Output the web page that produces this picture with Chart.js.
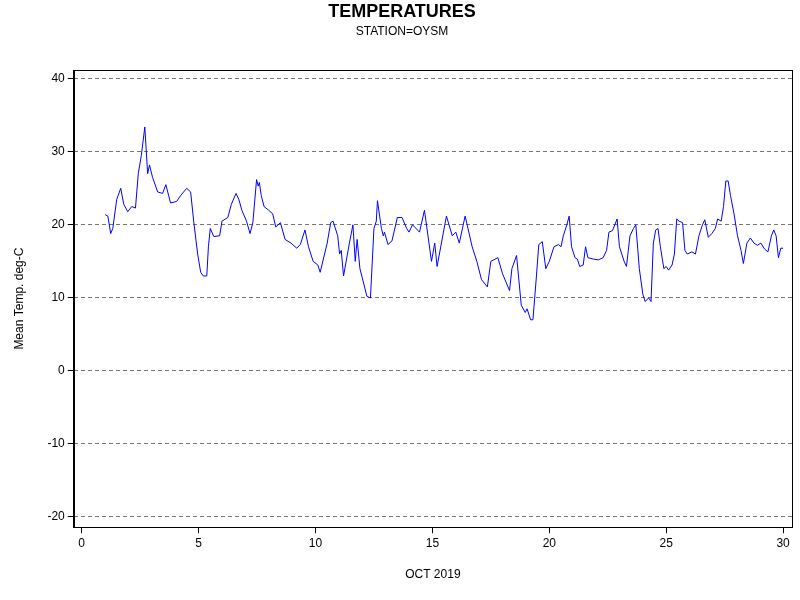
<!DOCTYPE html>
<html><head><meta charset="utf-8">
<script src="https://cdn.jsdelivr.net/npm/chart.js@4"></script>
<style>body{margin:0;background:#fff}#w{width:800px;height:600px}</style>
</head><body><div id="w"><canvas id="c"></canvas></div>
<script>
const days = [1.0,1.12,1.24,1.33,1.5,1.67,1.8,1.97,2.14,2.3,2.42,2.55,2.7,2.82,2.9,3.03,3.25,3.46,3.6,3.8,4.06,4.23,4.36,4.49,4.66,4.79,4.96,5.09,5.2,5.35,5.42,5.5,5.65,5.9,6.0,6.25,6.4,6.6,6.72,6.85,7.05,7.2,7.32,7.48,7.55,7.6,7.68,7.8,8.0,8.17,8.3,8.5,8.7,8.95,9.2,9.35,9.55,9.7,9.9,10.1,10.2,10.5,10.65,10.75,10.95,11.03,11.1,11.2,11.45,11.6,11.7,11.78,11.9,12.2,12.35,12.5,12.6,12.65,12.82,12.9,12.95,13.1,13.27,13.5,13.7,13.9,14.0,14.15,14.45,14.66,14.96,15.1,15.2,15.6,15.85,16.0,16.15,16.4,16.7,16.9,17.1,17.35,17.5,17.8,18.0,18.3,18.4,18.6,18.8,18.97,19.05,19.2,19.3,19.45,19.55,19.7,19.85,20.0,20.2,20.4,20.5,20.6,20.75,20.85,20.95,21.1,21.2,21.3,21.45,21.55,21.65,21.9,22.1,22.3,22.45,22.55,22.7,22.9,23.0,23.2,23.3,23.45,23.6,23.7,23.85,24.0,24.1,24.25,24.35,24.45,24.55,24.65,24.75,24.9,25.0,25.1,25.25,25.35,25.45,25.55,25.7,25.8,25.9,26.1,26.25,26.4,26.55,26.65,26.8,26.95,27.1,27.2,27.35,27.45,27.55,27.65,27.75,27.9,28.05,28.2,28.3,28.45,28.6,28.75,28.9,29.05,29.2,29.35,29.5,29.6,29.7,29.8,29.9,30.0];
const temps = [21.4,21.2,18.8,19.5,23.5,25,22.8,21.8,22.5,22.3,27,29.5,33.4,27,28.2,26.5,24.5,24.3,25.5,23,23.2,24,24.5,25,24.5,20.5,16,13.5,13,13,17,19.5,18.4,18.5,20.5,21,22.8,24.3,23.5,22,20.5,18.8,20.3,26.2,25.3,25.8,24,22.5,22,21.5,19.7,20.3,18,17.5,16.8,17.3,19.3,17,15,14.5,13.5,17.5,20.3,20.5,18.5,16,16.5,13,17.5,20,15,18,14,10.2,10,19.5,20.5,23.3,19.5,18.5,19,17.3,17.8,21,21,19.5,19,20,19,22,15,17.5,14.3,21.2,18.5,19,17.5,21.2,17,15,12.5,11.5,15,15.5,13.3,11,14,15.8,9,8,8.5,7,7,13,17.3,17.7,14,15,17,17.3,17,18.5,20,21.2,17,15.5,15.3,14.3,14.5,17,15.5,15.3,15.2,15.5,16.5,19,19.2,20.8,17,15,14.3,18.5,19.5,20,14,10.5,9.5,10,9.5,17.5,19.3,19.5,17,14,14.3,13.8,14.5,16,20.8,20.5,20.3,16.5,16,16.3,16,18.5,20,20.7,18.3,18.8,19.5,20.8,20.5,22.5,26,26,24,21.5,18.5,16.5,14.7,17.5,18.2,17.5,17.2,17.5,16.7,16.3,18.5,19.3,18.5,15.5,16.8,16.8];
const points = days.map((d,i)=>({x:d,y:temps[i]}));
const frame={id:'frame',afterDraw(c){const a=c.chartArea,x=c.ctx;x.save();x.strokeStyle='#000';x.lineWidth=1;x.strokeRect(Math.round(a.left)+0.5,Math.round(a.top)+0.5,Math.round(a.right-a.left),Math.round(a.bottom-a.top));x.restore();}};
new Chart(document.getElementById('c'),{
type:'line',
data:{datasets:[{data:points,borderColor:'#0000ff',borderWidth:1,pointRadius:0,tension:0}]},
options:{responsive:true,maintainAspectRatio:false,animation:false,
layout:{padding:{left:12,right:8,top:0,bottom:14}},
plugins:{legend:{display:false},
title:{display:true,text:'TEMPERATURES',font:{family:'Liberation Sans',size:18,weight:'bold'},color:'#000',padding:{top:1,bottom:2}},
subtitle:{display:true,text:'STATION=OYSM',font:{family:'Liberation Sans',size:12},color:'#000',padding:{bottom:31}}},
scales:{
x:{type:'linear',min:-0.34,max:30.38,afterBuildTicks:s=>{s.ticks=[0,5,10,15,20,25,30].map(v=>({value:v}));},
grid:{drawOnChartArea:false,color:'#000',tickLength:6},border:{color:'#000'},
ticks:{color:'#000',font:{family:'Liberation Sans',size:12}},
title:{display:true,text:'OCT 2019',color:'#000',font:{family:'Liberation Sans',size:12},padding:{top:14}}},
y:{min:-21.4,max:41.2,afterBuildTicks:s=>{s.ticks=[-20,-10,0,10,20,30,40].map(v=>({value:v}));},
grid:{color:'#777',tickLength:6,tickColor:'#000'},border:{color:'#000',dash:[4,3]},
ticks:{color:'#000',font:{family:'Liberation Sans',size:12}},
title:{display:true,text:'Mean Temp. deg-C',color:'#000',font:{family:'Liberation Sans',size:12},padding:{top:0,bottom:18}}}
}},plugins:[frame]});
</script></body></html>
